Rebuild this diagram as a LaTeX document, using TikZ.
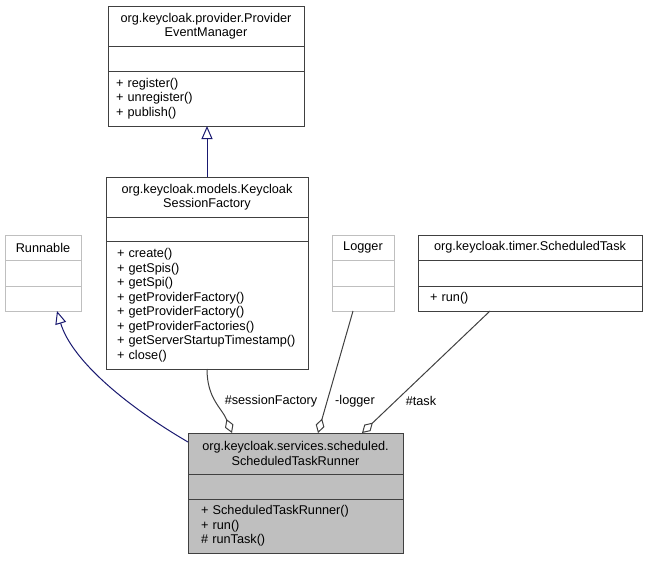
\documentclass[tikz,border=0pt]{standalone}
\usepackage{fontspec}
\setmainfont{Liberation Sans}
\usepackage{xcolor}
\usepackage{tikz}
\usetikzlibrary{positioning}
\usetikzlibrary{arrows.meta,shapes}
\usetikzlibrary{calc}
\definecolor{edgeblue}{HTML}{191970}
\definecolor{edgegray}{HTML}{404040}
\definecolor{boxgray}{HTML}{BFBFBF}
\tikzstyle{classhead}=[rectangle,draw=edgegray,outer sep=0pt,inner sep=0pt,anchor=north west,align=center]
\tikzstyle{classpart}=[rectangle,draw=edgegray,outer sep=0pt,inner sep=0pt,align=left]
\tikzstyle{inherit} = [draw,edgeblue,-{Triangle[open,width=11pt,length=13pt]}]
\tikzstyle{aggregate} = [draw,edgegray,{Diamond[open,width=9pt,length=15pt]}-]
\tikzstyle{role} = [inner sep=0pt]
\tikzset{every node/.style={font=\fontsize{12.7}{14.5}\selectfont}}

\begin{document}
\begin{tikzpicture}[x=1pt,y=-1pt,line width=1pt]
\useasboundingbox (0,0) rectangle (647,560);

 %ProviderEventManager
 \node[classhead,minimum width=196pt,minimum height=40pt] (pemHead) at (108,6) {org.keycloak.provider.Provider\\EventManager};
 \node[classpart,minimum width=196pt,minimum height=25pt,below=0pt of pemHead] (pemAttr) {};
 \node[classpart,minimum width=196pt,minimum height=55pt,text width=180pt,below=0pt of pemAttr] (pemOps) {+ register()\\+ unregister()\\+ publish()};

 %KeycloakSessionFactory
 \node[classhead,minimum width=202pt,minimum height=40pt] (ksfHead) at (106,177) {org.keycloak.models.Keycloak\\SessionFactory};
 \node[classpart,minimum width=202pt,minimum height=24pt,below=0pt of ksfHead] (ksfAttr) {};
 \node[classpart,minimum width=202pt,minimum height=128pt,text width=180pt,below=0pt of ksfAttr] (ksfOps) {+ create()\\+ getSpis()\\+ getSpi()\\+ getProviderFactory()\\+ getProviderFactory()\\+ getProviderFactories()\\+ getServerStartupTimestamp()\\+ close()};

 %Runnable
 \node[classhead,draw=boxgray,minimum width=76pt,minimum height=25pt] (rnbHead) at (5,235) {Runnable};
 \node[classpart,draw=boxgray,minimum width=76pt,minimum height=26pt,below=0pt of rnbHead] (rnbAttr) {};
 \node[classpart,draw=boxgray,minimum width=76pt,minimum height=25pt,below=0pt of rnbAttr] (rnbOps) {};

 %Logger
 \node[classhead,draw=boxgray,minimum width=62pt,minimum height=25pt] (lgrHead) at (332,235) {Logger};
 \node[classpart,draw=boxgray,minimum width=62pt,minimum height=26pt,below=0pt of lgrHead] (lgrAttr) {};
 \node[classpart,draw=boxgray,minimum width=62pt,minimum height=25pt,below=0pt of lgrAttr] (lgrOps) {};

 %ScheduledTask
 \node[classhead,minimum width=224pt,minimum height=25pt] (stkHead) at (418,235) {org.keycloak.timer.ScheduledTask};
 \node[classpart,minimum width=224pt,minimum height=26pt,below=0pt of stkHead] (stkAttr) {};
 \node[classpart,minimum width=224pt,minimum height=25pt,text width=200pt,below=0pt of stkAttr] (stkOps) {+ run()};

 %ScheduledTaskRunner
 \node[classhead,fill=boxgray,minimum width=215pt,minimum height=41pt] (strHead) at (188,433) {org.keycloak.services.scheduled.\\ScheduledTaskRunner};
 \node[classpart,fill=boxgray,minimum width=215pt,minimum height=25pt,below=0pt of strHead] (strAttr) {};
 \node[classpart,fill=boxgray,minimum width=215pt,minimum height=54pt,text width=189pt,below=0pt of strAttr] (strOps) {+ ScheduledTaskRunner()\\+ run()\\\# runTask()};

 %generalization
 \draw[inherit] (ksfHead.north) -- (ksfHead.north |- pemOps.south);
 \draw[inherit] ($(strHead.north west)+(0,9)$) .. controls +(-60,-35) and +(15,50) .. ($(rnbOps.south)+(14,0)$);

 %aggregation
 \draw[aggregate] ($(strHead.north west)+(44,0)$) .. controls +(-10,-25) and +(0,30) .. (ksfOps.south);
 \draw[aggregate] ($(strHead.north west)+(130,0)$) -- ($(lgrOps.south)+(-10,0)$);
 \draw[aggregate] ($(strHead.north west)+(174,0)$) -- ($(stkOps.south)+(-40,0)$);

 \node[role] (sfLabel) at (271,401) {\#sessionFactory};
 \node[role] (lgLabel) at (355,401) {-logger};
 \node[role] (tkLabel) at (421,401) {\#task};

\end{tikzpicture}
\end{document}
